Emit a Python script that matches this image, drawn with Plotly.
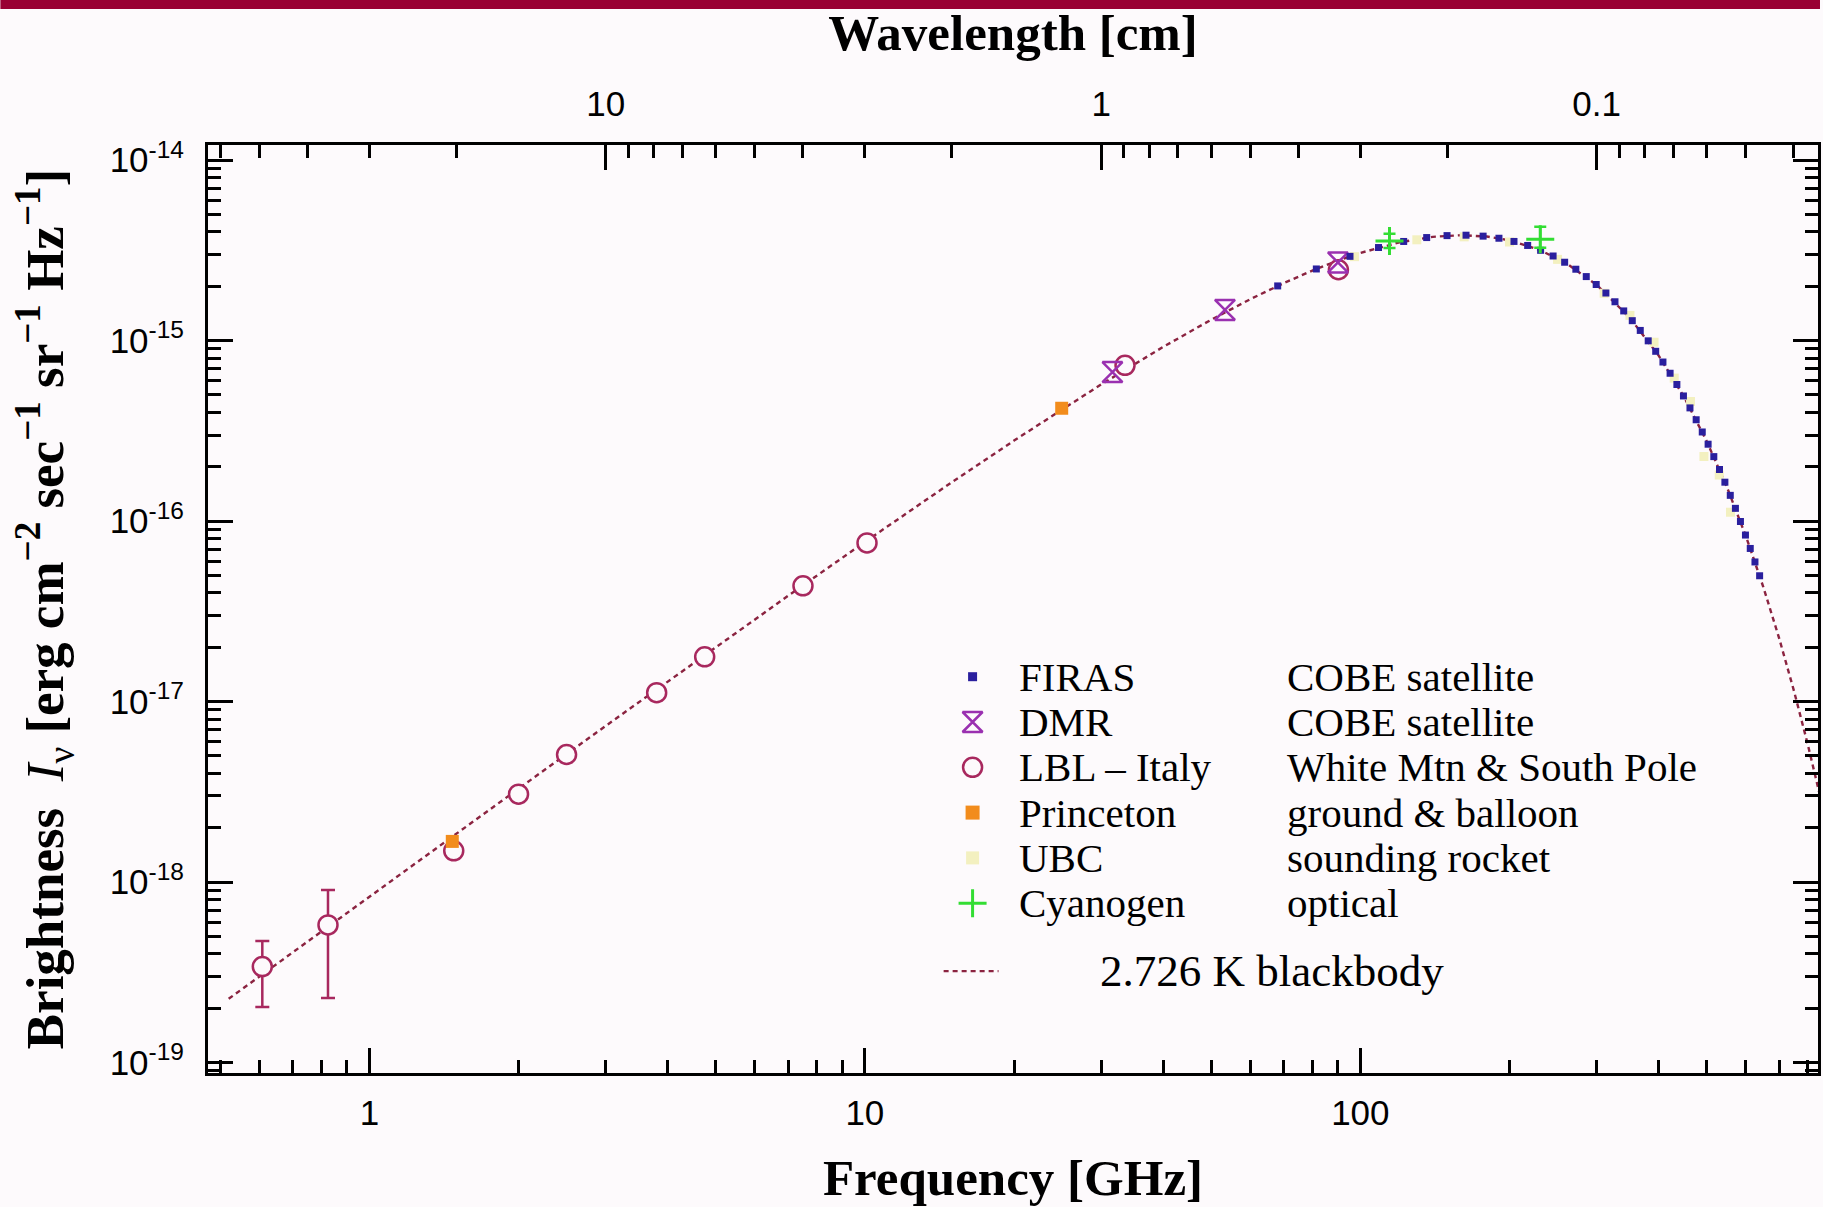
import math
import plotly.graph_objects as go

# ---------------- data ----------------
# 2.726 K blackbody curve: frequency [GHz] and brightness [erg cm^-2 s^-1 sr^-1 Hz^-1]
bb_freq = [0.52, 0.7, 1.0, 1.5, 2, 3, 5, 7, 10, 15, 20, 30, 40, 50, 60, 70, 80, 90, 100,
           120, 140, 160, 180, 200, 230, 260, 300, 350, 400, 450, 500, 550, 600, 650,
           700, 750, 800, 850]
bb_val = [2.254e-19, 4.079e-19, 8.302e-19, 1.860e-18, 3.291e-18, 7.341e-18, 2.003e-17,
          3.856e-17, 7.660e-17, 1.647e-16, 2.795e-16, 5.722e-16, 9.231e-16, 1.306e-15,
          1.698e-15, 2.082e-15, 2.444e-15, 2.773e-15, 3.062e-15, 3.505e-15, 3.760e-15,
          3.841e-15, 3.775e-15, 3.594e-15, 3.184e-15, 2.692e-15, 2.035e-15, 1.336e-15,
          8.261e-16, 4.873e-16, 2.771e-16, 1.529e-16, 8.233e-17, 4.341e-17, 2.248e-17,
          1.147e-17, 5.770e-18, 2.870e-18]

# FIRAS (COBE satellite)
firas_freq = [68.1, 81.5, 95.3, 108.8, 122.3, 136.1, 149.6, 163.4, 176.9, 190.4, 204.2,
              217.6, 231.1, 244.9, 258.4, 272.2, 285.7, 299.2, 313.0, 326.5, 340.0, 353.8,
              367.2, 381.0, 394.5, 408.0, 421.8, 435.3, 448.8, 462.6, 476.1, 489.8, 503.3,
              516.8, 530.6, 544.1, 557.9, 571.4, 584.9, 598.7, 612.2, 625.7, 639.4]
firas_val = [2.010e-15, 2.495e-15, 2.931e-15, 3.280e-15, 3.544e-15, 3.725e-15, 3.819e-15,
             3.839e-15, 3.793e-15, 3.693e-15, 3.545e-15, 3.368e-15, 3.166e-15, 2.944e-15,
             2.719e-15, 2.487e-15, 2.264e-15, 2.047e-15, 1.836e-15, 1.642e-15, 1.461e-15,
             1.290e-15, 1.139e-15, 9.974e-16, 8.728e-16, 7.611e-16, 6.595e-16, 5.714e-16,
             4.937e-16, 4.240e-16, 3.644e-16, 3.118e-16, 2.667e-16, 2.277e-16, 1.932e-16,
             1.643e-16, 1.389e-16, 1.177e-16, 9.950e-17, 8.369e-17, 7.055e-17, 5.939e-17,
             4.979e-17]

# DMR (COBE satellite)
dmr_freq = [31.6, 53.3, 90.1]
dmr_val = [6.7e-16, 1.48e-15, 2.71e-15]

# LBL - Italy (White Mtn & South Pole)
lbl_freq = [0.608, 0.825, 1.48, 2.0, 2.5, 3.8, 4.75, 7.5, 10.1, 33.5, 90.3]
lbl_val = [3.40e-19, 5.79e-19, 1.49e-18, 3.07e-18, 5.09e-18, 1.12e-17, 1.77e-17,
           4.38e-17, 7.57e-17, 7.3e-16, 2.47e-15]
lbl_err_plus = [1.32e-19, 3.25e-19, 0, 0, 0, 0, 0, 0, 0, 0, 0]
lbl_err_minus = [1.37e-19, 3.51e-19, 0, 0, 0, 0, 0, 0, 0, 0, 0]

# Princeton (ground & balloon)
princeton_freq = [1.47, 24.96]
princeton_val = [1.68e-18, 4.22e-16]

# UBC (sounding rocket)
ubc_freq = [97.3, 130, 162, 200, 250, 310.5, 350, 391.5, 430, 463.8, 493.6, 530, 558.5]
ubc_val = [2.92e-15, 3.62e-15, 3.76e-15, 3.52e-15, 2.82e-15, 1.83e-15, 1.38e-15,
           9.8e-16, 6.2e-16, 4.6e-16, 2.28e-16, 1.8e-16, 1.12e-16]

# Cyanogen (optical)
cn_freq = [114.5, 230.7]
cn_val = [3.56e-15, 3.64e-15]
cn_err_plus = [0.35e-15, 0.64e-15]
cn_err_minus = [0.30e-15, 0.37e-15]

# ticks
freq_ticks = [1, 10, 100]
freq_tick_text = ["1", "10", "100"]
wl_ticks = [10, 1, 0.1]
wl_tick_text = ["10", "1", "0.1"]
y_ticks = [1e-19, 1e-18, 1e-17, 1e-16, 1e-15, 1e-14]
y_tick_text = ["10<sup>-19</sup>", "10<sup>-18</sup>", "10<sup>-17</sup>",
               "10<sup>-16</sup>", "10<sup>-15</sup>", "10<sup>-14</sup>"]

# legend contents
legend_names = ["FIRAS", "DMR", "LBL – Italy", "Princeton", "UBC", "Cyanogen"]
legend_desc = ["COBE satellite", "COBE satellite", "White Mtn & South Pole",
               "ground & balloon", "sounding rocket", "optical"]
bb_label = "2.726 K blackbody"

C_CM_GHZ = 29.979  # wavelength [cm] = C / frequency [GHz]

# ---------------- layout constants ----------------
W, H = 1823, 1207
ML, MR, MT, MB = 208, 2, 145, 134
PW, PH = W - ML - MR, H - MT - MB
BG = "#fdfafc"
SANS = "Liberation Sans, Arial, sans-serif"
SERIF = "Liberation Serif, Times New Roman, serif"

C_FIRAS = "#2a1f9e"
C_DMR = "#9a30b0"
C_LBL = "#a8285e"
C_PRIN = "#f28c1c"
C_UBC = "#f3f0c0"
C_CN = "#33dd33"
C_BB = "#8b2340"

x_range = [-0.3257, 2.9236]
y_range = [-19.058, -13.916]
lc = math.log10(C_CM_GHZ)
wl_range = [lc - x_range[0], lc - x_range[1]]

fig = go.Figure()

# blackbody curve
fig.add_trace(go.Scatter(x=bb_freq, y=bb_val, mode="lines",
                         line=dict(color=C_BB, width=2.4, dash="5px,4px"),
                         hoverinfo="skip", showlegend=False))
# same curve against the wavelength axis (invisible, keeps the top axis bound to data)
fig.add_trace(go.Scatter(x=[C_CM_GHZ / f for f in bb_freq], y=bb_val, mode="none",
                         xaxis="x2", yaxis="y", hoverinfo="skip", showlegend=False))

# UBC
fig.add_trace(go.Scatter(x=ubc_freq, y=ubc_val, mode="markers",
                         marker=dict(symbol="square", size=9, color=C_UBC),
                         showlegend=False))
# LBL
fig.add_trace(go.Scatter(
    x=lbl_freq, y=lbl_val, mode="markers",
    marker=dict(symbol="circle", size=19, color=BG, line=dict(color=C_LBL, width=2.5)),
    error_y=dict(type="data", array=lbl_err_plus, arrayminus=lbl_err_minus,
                 color=C_LBL, thickness=2.5, width=7),
    showlegend=False))
# Princeton
fig.add_trace(go.Scatter(x=princeton_freq, y=princeton_val, mode="markers",
                         marker=dict(symbol="square", size=13, color=C_PRIN),
                         showlegend=False))
# DMR
fig.add_trace(go.Scatter(x=dmr_freq, y=dmr_val, mode="markers",
                         marker=dict(symbol="hourglass-open", size=20, color=C_DMR,
                                     line=dict(color=C_DMR, width=2.5)),
                         showlegend=False))
# FIRAS
fig.add_trace(go.Scatter(x=firas_freq, y=firas_val, mode="markers",
                         marker=dict(symbol="square", size=7, color=C_FIRAS),
                         showlegend=False))
# Cyanogen
fig.add_trace(go.Scatter(
    x=cn_freq, y=cn_val, mode="markers",
    marker=dict(symbol="cross-thin", size=20, color=C_CN, line=dict(color=C_CN, width=3)),
    error_y=dict(type="data", array=cn_err_plus, arrayminus=cn_err_minus,
                 color=C_CN, thickness=2.5, width=6),
    showlegend=False))

# ---------------- hand-made legend (pixel frame overlay axes) ----------------
LEG_SYM_X = 974
LEG_NAME_X = 1020
LEG_DESC_X = 1288
LEG_ROW0 = 676.7
LEG_PITCH = 45.3
rows_y = [LEG_ROW0 + i * LEG_PITCH for i in range(len(legend_names))]
bb_row_y = LEG_ROW0 + 6.5 * LEG_PITCH

leg_styles = [
    dict(symbol="square", size=9, color=C_FIRAS),
    dict(symbol="hourglass-open", size=20, color=C_DMR, line=dict(color=C_DMR, width=2.5)),
    dict(symbol="circle-open", size=19, color=C_LBL, line=dict(color=C_LBL, width=2.5)),
    dict(symbol="square", size=14, color=C_PRIN),
    dict(symbol="square", size=13, color=C_UBC),
    dict(symbol="cross-thin", size=20, color=C_CN, line=dict(color=C_CN, width=3)),
]
for ry, st in zip(rows_y, leg_styles):
    fig.add_trace(go.Scatter(x=[LEG_SYM_X], y=[ry], mode="markers", marker=st,
                             xaxis="x3", yaxis="y3", hoverinfo="skip", showlegend=False))
fig.add_trace(go.Scatter(x=[945, 1000], y=[bb_row_y, bb_row_y], mode="lines",
                         line=dict(color=C_BB, width=2.4, dash="5px,4px"),
                         xaxis="x3", yaxis="y3", hoverinfo="skip", showlegend=False))

leg_font = dict(family=SERIF, size=41, color="black")
annotations = []
for ry, nm, ds in zip(rows_y, legend_names, legend_desc):
    annotations.append(dict(x=LEG_NAME_X, y=ry, xref="x3", yref="y3", text=nm,
                            showarrow=False, xanchor="left", yanchor="middle",
                            borderpad=0, font=leg_font))
    annotations.append(dict(x=LEG_DESC_X, y=ry, xref="x3", yref="y3", text=ds,
                            showarrow=False, xanchor="left", yanchor="middle",
                            borderpad=0, font=leg_font))
annotations.append(dict(x=1100, y=bb_row_y, xref="x3", yref="y3", text=bb_label,
                        showarrow=False, xanchor="left", yanchor="middle",
                        font=dict(family=SERIF, size=45, color="black")))

tickfont = dict(family=SANS, size=35, color="black")
minor = dict(ticks="inside", ticklen=13, tickwidth=3, tickcolor="black",
             dtick="D1", showgrid=False)
common = dict(showline=True, linecolor="black", linewidth=3, ticks="inside",
              ticklen=25, tickwidth=3, tickcolor="black", showgrid=False,
              zeroline=False, tickfont=tickfont, minor=minor, tickmode="array")
title_font = dict(family=SERIF, size=51, color="black")
hidden = dict(visible=False, fixedrange=True, showticklabels=False, showgrid=False,
              zeroline=False, showline=False, ticks="")

fig.update_layout(
    width=W, height=H,
    margin=dict(l=ML, r=MR, t=MT, b=MB, pad=0),
    paper_bgcolor=BG, plot_bgcolor="rgba(0,0,0,0)",
    showlegend=False,
    xaxis=dict(type="log", range=x_range, tickvals=freq_ticks, ticktext=freq_tick_text,
               ticklabelstandoff=7,
               title=dict(text="<b>Frequency [GHz]</b>", font=title_font, standoff=29),
               **common),
    xaxis2=dict(type="log", range=wl_range, overlaying="x", side="top", anchor="y",
                tickvals=wl_ticks, ticktext=wl_tick_text, ticklabelstandoff=12,
                title=dict(text="<b>Wavelength [cm]</b>", font=title_font, standoff=18),
                **common),
    yaxis=dict(type="log", range=y_range, tickvals=y_ticks, ticktext=y_tick_text,
               mirror="ticks", ticklabelstandoff=14,
               title=dict(text="<b>Brightness  </b><i>I</i><sub>ν</sub>"
                               "<b> [erg cm<sup>−2</sup> sec<sup>−1</sup> sr<sup>−1</sup>"
                               " Hz<sup>−1</sup>]</b>",
                          font=dict(family=SERIF, size=53, color="black"), standoff=30),
               **common),
    xaxis3=dict(overlaying="x", range=[ML, W - MR], **hidden),
    yaxis3=dict(overlaying="y", range=[H - MB, MT], **hidden),
    annotations=annotations,
    shapes=[dict(type="rect", xref="paper", yref="paper",
                 x0=-ML / PW, x1=1 + MR / PW,
                 y0=1 + (MT - 9) / PH, y1=1 + MT / PH,
                 fillcolor="#990033", line=dict(width=0), layer="above")],
)

fig.write_html("out.html",
               config={"displayModeBar": False},
               post_script="document.body.style.margin='0';"
                           "document.body.style.overflow='hidden';")
